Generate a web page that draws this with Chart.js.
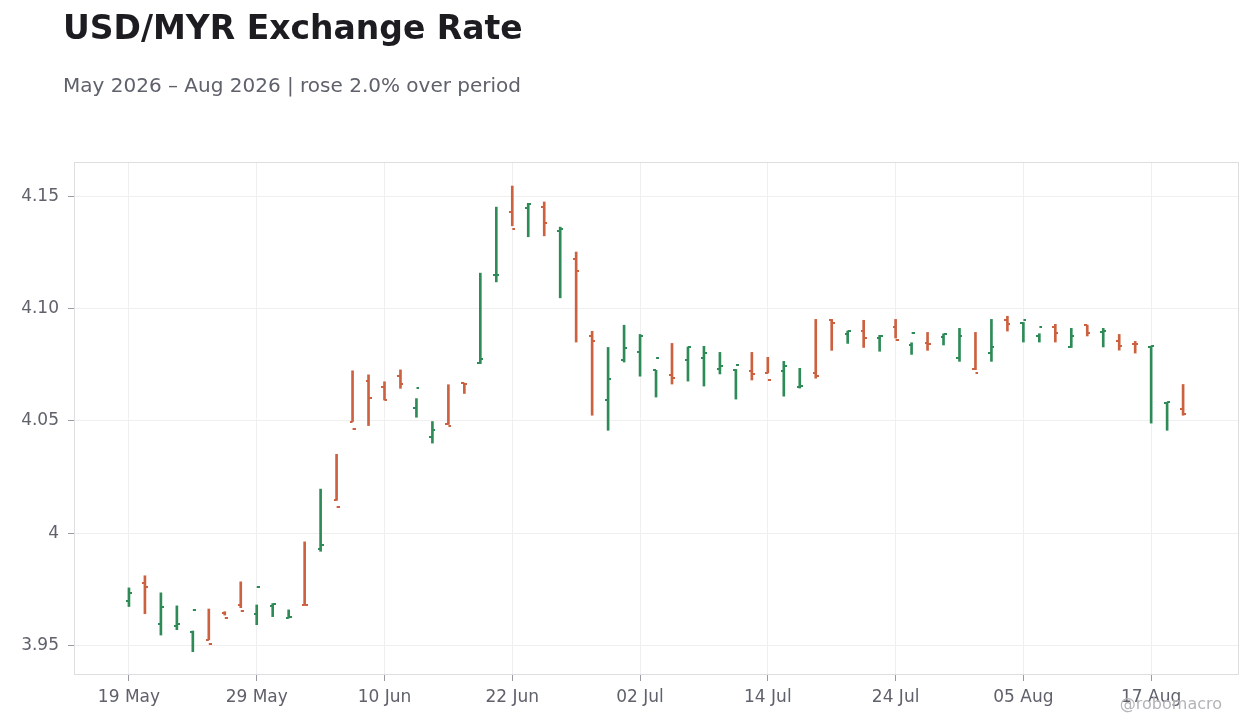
<!DOCTYPE html>
<html>
<head>
<meta charset="utf-8">
<title>USD/MYR Exchange Rate</title>
<script src="https://cdn.jsdelivr.net/npm/chart.js@4.4.1/dist/chart.umd.min.js"></script>
<style>
  html, body { margin: 0; padding: 0; background: #fff; }
  #wrap { position: relative; width: 1260px; height: 728px; font-family: "DejaVu Sans", sans-serif; }
  #chart { position: absolute; left: 0; top: 0; }
  .title { position: absolute; left: 63px; top: 11px; font-size: 33px; line-height: 33px; font-weight: bold; color: #1c1c21; }
  .subtitle { position: absolute; left: 63px; top: 75px; font-size: 20px; line-height: 20px; color: #5f616b; }
  .credit { position: absolute; right: 38px; top: 696px; font-size: 16px; line-height: 16px; color: #b4b4b8; }
</style>
</head>
<body>
<div id="wrap">
  <canvas id="chart" width="1260" height="728"></canvas>
  <div class="title">USD/MYR Exchange Rate</div>
  <div class="subtitle">May 2026 – Aug 2026 | rose 2.0% over period</div>
  <div class="credit">@robomacro</div>
</div>
<script>
// Trading days (weekdays only)
const dates = [
  "19 May", "20 May", "21 May", "22 May", "25 May", "26 May", "27 May", "28 May", "29 May",
  "01 Jun", "02 Jun", "03 Jun", "04 Jun", "05 Jun", "08 Jun", "09 Jun", "10 Jun", "11 Jun", "12 Jun",
  "15 Jun", "16 Jun", "17 Jun", "18 Jun", "19 Jun", "22 Jun", "23 Jun", "24 Jun", "25 Jun", "26 Jun",
  "29 Jun", "30 Jun", "01 Jul", "02 Jul", "03 Jul", "06 Jul", "07 Jul", "08 Jul", "09 Jul", "10 Jul",
  "13 Jul", "14 Jul", "15 Jul", "16 Jul", "17 Jul", "20 Jul", "21 Jul", "22 Jul", "23 Jul", "24 Jul",
  "27 Jul", "28 Jul", "29 Jul", "30 Jul", "31 Jul", "03 Aug", "04 Aug", "05 Aug", "06 Aug", "07 Aug",
  "10 Aug", "11 Aug", "12 Aug", "13 Aug", "14 Aug", "17 Aug", "18 Aug", "19 Aug"
];

// OHLC values
const opens = [
  3.9699, 3.9780, 3.9597, 3.9588, 3.9561, 3.9525, 3.9644, 3.9680, 3.9641, 3.9677,
  3.9624, 3.9682, 3.9928, 4.0146, 4.0497, 4.0676, 4.0653, 4.0701, 4.0556, 4.0428,
  4.0484, 4.0667, 4.0757, 4.1149, 4.1430, 4.1449, 4.1454, 4.1347, 4.1222, 4.0878,
  4.0592, 4.0769, 4.0807, 4.0726, 4.0704, 4.0771, 4.0780, 4.0731, 4.0726, 4.0722,
  4.0713, 4.0722, 4.0650, 4.0713, 4.0949, 4.0887, 4.0900, 4.0869, 4.0918, 4.0838,
  4.0847, 4.0874, 4.0780, 4.0731, 4.0802, 4.0949, 4.0936, 4.0878, 4.0918, 4.0827,
  4.0926, 4.0896, 4.0856, 4.0842, 4.0829, 4.0579, 4.0552
];
const highs = [
  3.9756, 3.9810, 3.9734, 3.9676, 3.9564, 3.9662, 3.9650, 3.9783, 3.9680, 3.9686,
  3.9658, 3.9961, 4.0196, 4.0351, 4.0723, 4.0705, 4.0674, 4.0727, 4.0599, 4.0497,
  4.0661, 4.0667, 4.1158, 4.1452, 4.1546, 4.1469, 4.1475, 4.1363, 4.1252, 4.0899,
  4.0827, 4.0926, 4.0885, 4.0725, 4.0845, 4.0829, 4.0832, 4.0805, 4.0729, 4.0805,
  4.0783, 4.0765, 4.0734, 4.0952, 4.0952, 4.0900, 4.0948, 4.0881, 4.0952, 4.0848,
  4.0894, 4.0887, 4.0912, 4.0894, 4.0952, 4.0966, 4.0938, 4.0888, 4.0930, 4.0912,
  4.0926, 4.0912, 4.0885, 4.0854, 4.0833, 4.0583, 4.0662
];
const lows = [
  3.9673, 3.9641, 3.9546, 3.9570, 3.9472, 3.9525, 3.9635, 3.9668, 3.9592, 3.9628,
  3.9622, 3.9680, 3.9919, 4.0146, 4.0497, 4.0479, 4.0593, 4.0645, 4.0516, 4.0401,
  4.0484, 4.0622, 4.0755, 4.1119, 4.1369, 4.1320, 4.1324, 4.1048, 4.0851, 4.0525,
  4.0458, 4.0762, 4.0699, 4.0606, 4.0664, 4.0677, 4.0655, 4.0709, 4.0597, 4.0682,
  4.0713, 4.0610, 4.0646, 4.0690, 4.0814, 4.0845, 4.0827, 4.0810, 4.0869, 4.0796,
  4.0814, 4.0838, 4.0765, 4.0728, 4.0765, 4.0900, 4.0851, 4.0851, 4.0851, 4.0827,
  4.0878, 4.0829, 4.0815, 4.0802, 4.0490, 4.0458, 4.0525
];
const closes = [
  3.9735, 3.9762, 3.9673, 3.9597, 3.9659, 3.9506, 3.9622, 3.9655, 3.9762, 3.9686,
  3.9626, 3.9678, 3.9945, 4.0118, 4.0462, 4.0600, 4.0594, 4.0665, 4.0645, 4.0459,
  4.0476, 4.0662, 4.0775, 4.1150, 4.1354, 4.1467, 4.1382, 4.1356, 4.1168, 4.0856,
  4.0686, 4.0824, 4.0878, 4.0780, 4.0690, 4.0830, 4.0801, 4.0744, 4.0750, 4.0709,
  4.0682, 4.0744, 4.0655, 4.0702, 4.0935, 4.0900, 4.0869, 4.0880, 4.0859, 4.0891,
  4.0841, 4.0887, 4.0878, 4.0713, 4.0829, 4.0931, 4.0949, 4.0918, 4.0891, 4.0878,
  4.0891, 4.0900, 4.0834, 4.0841, 4.0833, 4.0583, 4.0530
];

// Axis ticks
const xTickIdx = [0, 8, 16, 24, 32, 40, 48, 56, 64];
const yTicks = [3.95, 4.00, 4.05, 4.10, 4.15];
const yTickLabels = ["3.95", "4", "4.05", "4.10", "4.15"];

const upColor = "#2e8b57";
const downColor = "#cc6140";
const isUp = (i) => closes[i] >= opens[i];
const barColor = (i) => (isUp(i) ? upColor : downColor);

// small tick images for open (left) and close (right)
function makeTick(color, side) {
  const c = document.createElement("canvas");
  c.width = 6;
  c.height = 2;
  const g = c.getContext("2d");
  g.fillStyle = color;
  g.fillRect(side === "left" ? 0 : 3, 0, 3, 2);
  return c;
}
const tickImg = {
  openUp: makeTick(upColor, "left"),
  openDown: makeTick(downColor, "left"),
  closeUp: makeTick(upColor, "right"),
  closeDown: makeTick(downColor, "right"),
};

const rangeData = dates.map((d, i) => ({ x: i, y: [lows[i], highs[i]] }));
const openData = dates.map((d, i) => ({ x: i, y: opens[i] }));
const closeData = dates.map((d, i) => ({ x: i, y: closes[i] }));

// border round the plot area
const plotBorder = {
  id: "plotBorder",
  beforeDatasetsDraw(chart) {
    const a = chart.chartArea;
    const g = chart.ctx;
    g.save();
    g.strokeStyle = "#dedee0";
    g.lineWidth = 1;
    g.strokeRect(Math.round(a.left) + 0.5, Math.round(a.top) + 0.5, Math.round(a.right - a.left) - 1, Math.round(a.bottom - a.top) - 1);
    g.restore();
  },
};

const ctx = document.getElementById("chart").getContext("2d");
const ohlcChart = new Chart(ctx, {
  type: "bar",
  data: {
    datasets: [
      {
        label: "High-Low",
        data: rangeData,
        backgroundColor: dates.map((d, i) => barColor(i)),
        borderWidth: 0,
        barThickness: 2,
        grouped: false,
      },
      {
        type: "scatter",
        label: "Open",
        data: openData,
        pointStyle: dates.map((d, i) => (isUp(i) ? tickImg.openUp : tickImg.openDown)),
        pointRadius: 3,
      },
      {
        type: "scatter",
        label: "Close",
        data: closeData,
        pointStyle: dates.map((d, i) => (isUp(i) ? tickImg.closeUp : tickImg.closeDown)),
        pointRadius: 3,
      },
    ],
  },
  options: {
    responsive: false,
    animation: false,
    events: [],
    layout: { padding: { top: 162, right: 21, bottom: 0, left: 0 } },
    plugins: {
      legend: { display: false },
      tooltip: { enabled: false },
      title: { display: false },
    },
    scales: {
      x: {
        type: "linear",
        offset: false,
        min: -3.44,
        max: 69.5,
        afterBuildTicks: (scale) => {
          scale.ticks = xTickIdx.map((v) => ({ value: v }));
        },
        afterFit: (scale) => {
          scale.height = 53;
        },
        ticks: {
          callback: (v) => dates[v],
          color: "#5f616b",
          font: { family: "DejaVu Sans", size: 17 },
          padding: 6,
          maxRotation: 0,
          autoSkip: false,
        },
        grid: { offset: false, color: "#efeff0", tickColor: "#9a9aa0", tickLength: 6, drawTicks: true },
        border: { display: false },
      },
      y: {
        min: 3.9368,
        max: 4.1653,
        afterBuildTicks: (scale) => {
          scale.ticks = yTicks.map((v) => ({ value: v }));
        },
        afterFit: (scale) => {
          scale.width = 74;
        },
        ticks: {
          callback: (v) => yTickLabels[yTicks.findIndex((t) => Math.abs(t - v) < 1e-6)],
          color: "#5f616b",
          font: { family: "DejaVu Sans", size: 17 },
          padding: 9,
        },
        grid: { color: "#efeff0", tickColor: "#9a9aa0", tickLength: 6, drawTicks: true },
        border: { display: false },
      },
    },
  },
  plugins: [plotBorder],
});
</script>
</body>
</html>
